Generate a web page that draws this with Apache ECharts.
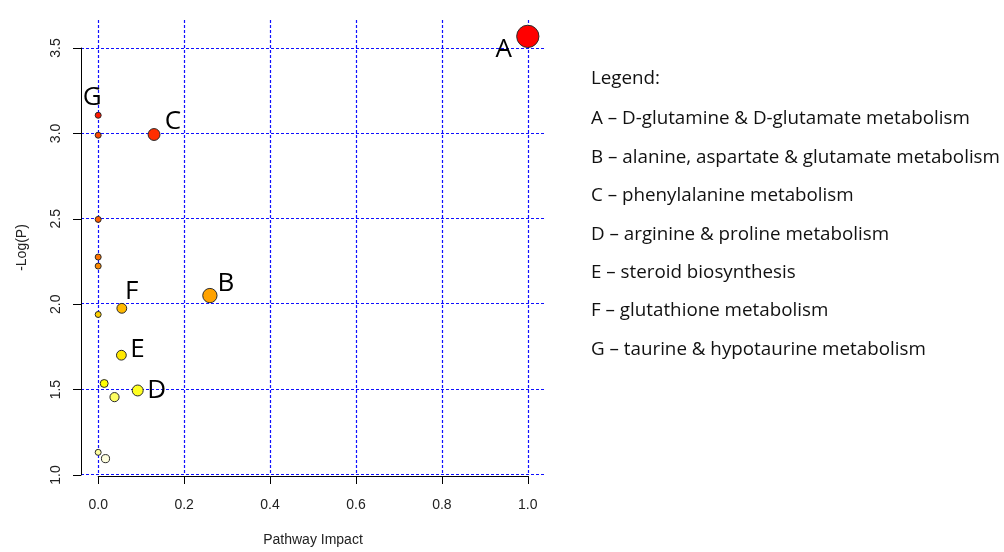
<!DOCTYPE html>
<html>
<head>
<meta charset="utf-8">
<script src="https://cdn.jsdelivr.net/npm/echarts@6/dist/echarts.min.js"></script>
<style>
  html, body { margin: 0; padding: 0; background: #ffffff; }
  #chart { width: 1004px; height: 552px; }
</style>
</head>
<body>
<div id="chart"></div>
<script>
// Pathway analysis results, one entry per pathway, ordered by p-value (most significant first)
const pathwayImpact = [1.0, 0, 0.13, 0, 0, 0, 0, 0.26, 0.055, 0, 0.054, 0.014, 0.092, 0.038, 0, 0.017];
const negLogP = [3.568, 3.105, 2.992, 2.988, 2.494, 2.273, 2.220, 2.047, 1.972, 1.936, 1.697, 1.531, 1.490, 1.451, 1.127, 1.090];
const pointLetters = ['A', 'G', 'C', '', '', '', '', 'B', 'F', '', 'E', '', 'D', '', '', ''];

// Axis ticks
const xTicks = [0, 0.2, 0.4, 0.6, 0.8, 1.0];
const yTicks = [1.0, 1.5, 2.0, 2.5, 3.0, 3.5];

// Key for the lettered pathways
const legendTitle = 'Legend:';
const legendLetters = ['A', 'B', 'C', 'D', 'E', 'F', 'G'];
const legendNames = [
  'D-glutamine & D-glutamate metabolism',
  'alanine, aspartate & glutamate metabolism',
  'phenylalanine metabolism',
  'arginine & proline metabolism',
  'steroid biosynthesis',
  'glutathione metabolism',
  'taurine & hypotaurine metabolism'
];

// Where each letter sits relative to its circle
const letterOffset = { A: [-24, 13], G: [-6, -18], C: [19, -13], B: [16, -12], F: [10, -17], E: [16, -6], D: [19, 0] };

// R-style heat palette: red -> yellow, then fading towards white
function hsvToHex(h, s, v) {
  const i = Math.floor(h * 6), f = h * 6 - i;
  const p = v * (1 - s), q = v * (1 - f * s), t = v * (1 - (1 - f) * s);
  let r, g, b;
  switch (i % 6) {
    case 0: r = v; g = t; b = p; break;
    case 1: r = q; g = v; b = p; break;
    case 2: r = p; g = v; b = t; break;
    case 3: r = p; g = q; b = v; break;
    case 4: r = t; g = p; b = v; break;
    default: r = v; g = p; b = q;
  }
  const hx = x => Math.round(x * 255).toString(16).padStart(2, '0');
  return '#' + hx(r) + hx(g) + hx(b);
}
function heatColors(n) {
  const j = Math.floor(n / 4), i = n - j;
  const out = [];
  for (let k = 0; k < i; k++) out.push(hsvToHex(i > 1 ? k * (1 / 6) / (i - 1) : 0, 1, 1));
  const s0 = 1 - 1 / (2 * j), s1 = 1 / (2 * j);
  for (let k = 0; k < j; k++) out.push(hsvToHex(1 / 6, j > 1 ? s0 + k * (s1 - s0) / (j - 1) : s0, 1));
  return out;
}
const fills = heatColors(negLogP.length);

// Plot region and the data range it covers
const plot = { left: 81, top: 20, width: 464, height: 456 };
const xRange = [-0.04, 1.04];
const yRange = [0.994, 3.664];
// Inner frame spanning the tick range: carries the R-style axes (line, ticks, labels)
const xPx = v => plot.left + (v - xRange[0]) / (xRange[1] - xRange[0]) * plot.width;
const yPx = v => plot.top + plot.height - (v - yRange[0]) / (yRange[1] - yRange[0]) * plot.height;
const inner = {
  left: xPx(xTicks[0]),
  width: xPx(xTicks[xTicks.length - 1]) - xPx(xTicks[0]),
  top: yPx(yTicks[yTicks.length - 1]),
  height: yPx(yTicks[0]) - yPx(yTicks[yTicks.length - 1])
};

const textFont = () => ({ fontFamily: 'Liberation Sans', fontSize: 14, color: '#222' });
const gridLine = () => ({ show: true, lineStyle: { color: '#1010ff', width: 1.2, type: [3, 2] } });
const blackLine = () => ({ show: true, onZero: false, lineStyle: { color: '#000', width: 1 } });
const blackTick = () => ({ show: true, length: 8, lineStyle: { color: '#000', width: 1 } });

const points = pathwayImpact.map((x, i) => {
  const letter = pointLetters[i];
  const item = {
    value: [x, negLogP[i]],
    itemStyle: { color: fills[i] }
  };
  if (letter) {
    item.label = {
      show: true,
      position: 'inside',
      formatter: letter,
      offset: letterOffset[letter],
      fontFamily: 'Open Sans',
      fontSize: 26,
      color: '#000'
    };
  }
  return item;
});

const legendFont = '18.8px "Open Sans"';
const graphics = [{
  type: 'text', x: 591, y: 79,
  style: { text: legendTitle, font: legendFont, fill: '#111', verticalAlign: 'middle' }
}].concat(legendLetters.map((l, i) => ({
  type: 'text', x: 591, y: 119 + i * 38.4,
  style: { text: l + ' \u2013 ' + legendNames[i], font: legendFont, fill: '#111', verticalAlign: 'middle' }
})));

const chart = echarts.init(document.getElementById('chart'), null, { renderer: 'canvas' });
chart.setOption({
  animation: false,
  backgroundColor: '#ffffff',
  grid: [
    { left: plot.left, top: plot.top, width: plot.width, height: plot.height },
    { left: inner.left, top: inner.top, width: inner.width, height: inner.height }
  ],
  xAxis: [{
    // full plot region: dotted grid and axis title
    type: 'value', gridIndex: 0, min: xRange[0], max: xRange[1],
    axisLine: { show: false },
    axisTick: { show: false, customValues: xTicks },
    axisLabel: { show: false },
    splitLine: gridLine(),
    name: 'Pathway Impact', nameLocation: 'middle', nameGap: 58,
    nameTextStyle: textFont()
  }, {
    // tick range: axis line, ticks and labels
    type: 'value', gridIndex: 1, min: xTicks[0], max: xTicks[xTicks.length - 1],
    interval: xTicks[1] - xTicks[0],
    offset: plot.top + plot.height - (inner.top + inner.height),
    axisLine: blackLine(),
    axisTick: blackTick(),
    axisLabel: Object.assign({ margin: 22, formatter: v => v.toFixed(1) }, textFont()),
    splitLine: { show: false }
  }],
  yAxis: [{
    type: 'value', gridIndex: 0, min: yRange[0], max: yRange[1],
    axisLine: { show: false },
    axisTick: { show: false, customValues: yTicks },
    axisLabel: { show: false },
    splitLine: gridLine(),
    name: '-Log(P)', nameLocation: 'middle', nameGap: 52, nameRotate: 90,
    nameTextStyle: textFont()
  }, {
    type: 'value', gridIndex: 1, min: yTicks[0], max: yTicks[yTicks.length - 1],
    interval: yTicks[1] - yTicks[0],
    offset: inner.left - plot.left,
    axisLine: blackLine(),
    axisTick: blackTick(),
    axisLabel: Object.assign({ margin: 18, rotate: 90, formatter: v => v.toFixed(1) }, textFont()),
    splitLine: { show: false }
  }],
  series: [{
    type: 'scatter',
    xAxisIndex: 0, yAxisIndex: 0,
    clip: false,
    data: points,
    // circle radius grows with the square root of the impact
    symbolSize: v => 6 + 16.3 * Math.sqrt(v[0]),
    itemStyle: { borderColor: '#2a2a2a', borderWidth: 1, opacity: 1 },
    emphasis: { disabled: true }
  }],
  graphic: graphics
});
</script>
</body>
</html>
